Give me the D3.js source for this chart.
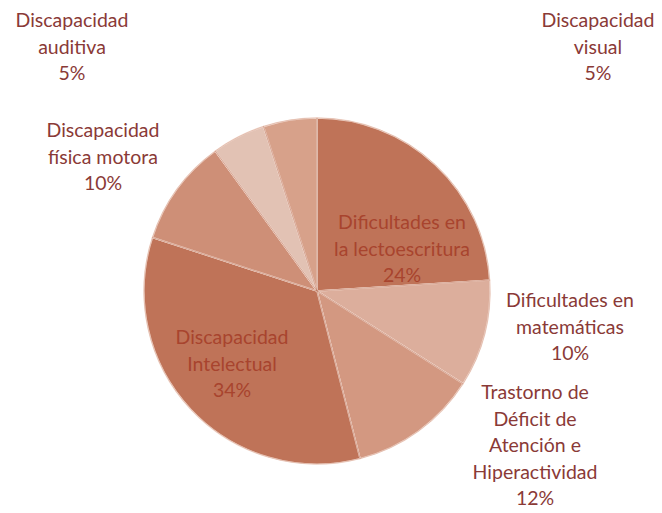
<!DOCTYPE html>
<html>
<head>
<meta charset="utf-8">
<script src="https://cdn.jsdelivr.net/npm/d3@7"></script>
<style>
  body { margin: 0; background: #fff; }
</style>
</head>
<body>
<script>
// slices, clockwise from 12 o'clock
var categories = ["Dificultades en la lectoescritura", "Dificultades en matemáticas",
  "Trastorno de Déficit de Atención e Hiperactividad", "Discapacidad Intelectual",
  "Discapacidad física motora", "Discapacidad auditiva", "Discapacidad visual"];
var values = [24, 10, 12, 34, 10, 5, 5];
var labelLines = [
  ["Dificultades en", "la lectoescritura", "24%"],
  ["Dificultades en", "matemáticas", "10%"],
  ["Trastorno de", "Déficit de", "Atención e", "Hiperactividad", "12%"],
  ["Discapacidad", "Intelectual", "34%"],
  ["Discapacidad", "física motora", "10%"],
  ["Discapacidad", "auditiva", "5%"],
  ["Discapacidad", "visual", "5%"]
];
var colors = ["#c7785c", "#e6b6a3", "#dc9f87", "#c7785c", "#d7957c", "#eccabc", "#e0a890"];

var w = 662, h = 513;
var cx = 317, cy = 291, r = 173;

var svg = d3.select("body").append("svg").attr("width", w).attr("height", h);
var defs = svg.append("defs");

colors.forEach(function(c, i) {
  var g = defs.append("radialGradient").attr("id", "g" + i)
    .attr("gradientUnits", "userSpaceOnUse")
    .attr("cx", cx).attr("cy", cy).attr("r", r);
  g.append("stop").attr("offset", "0%").attr("stop-color", d3.color(c).brighter(0.1));
  g.append("stop").attr("offset", "94%").attr("stop-color", c);
  g.append("stop").attr("offset", "100%").attr("stop-color", d3.color(c).darker(0.12));
});

var pie = d3.pie().sort(null).value(function(d) { return d; });
var arc = d3.arc().innerRadius(0).outerRadius(r);
var arcs = pie(values);

var g = svg.append("g").attr("transform", "translate(" + cx + "," + cy + ")");

g.selectAll("path.slice")
  .data(arcs)
  .enter()
  .append("path")
  .attr("class", "slice")
  .attr("d", arc)
  .attr("fill", function(d, i) { return "url(#g" + i + ")"; })
  .attr("stroke", "#f6e2d9")
  .attr("stroke-width", 1.4);

// thin dark edge along the slice borders
g.selectAll("path.edge")
  .data(arcs)
  .enter()
  .append("path")
  .attr("class", "edge")
  .attr("d", arc)
  .attr("fill", "none")
  .attr("stroke", "#b86a52")
  .attr("stroke-width", 0.5)
  .attr("stroke-opacity", 0.6);

// label centres (outside labels placed like the original)
var labelPos = [[402, 222], [570, 300], [535, 392], [232, 337], [103, 130], [72, 20], [598, 20]];
var inside = [true, false, false, true, false, false, false];
var lineH = 26.5;

svg.selectAll("text.lbl")
  .data(labelLines)
  .enter()
  .append("text")
  .attr("class", "lbl")
  .attr("text-anchor", "middle")
  .attr("font-family", "Lato, 'Open Sans', sans-serif")
  .attr("font-size", "19.5px")
  .attr("fill", function(d, i) { return inside[i] ? "#a8442e" : "#8a3a37"; })
  .each(function(d, i) {
    var t = d3.select(this);
    d.forEach(function(line, k) {
      t.append("tspan")
        .attr("x", labelPos[i][0])
        .attr("y", labelPos[i][1] + 7 + k * lineH)
        .text(line);
    });
  });
</script>
</body>
</html>
